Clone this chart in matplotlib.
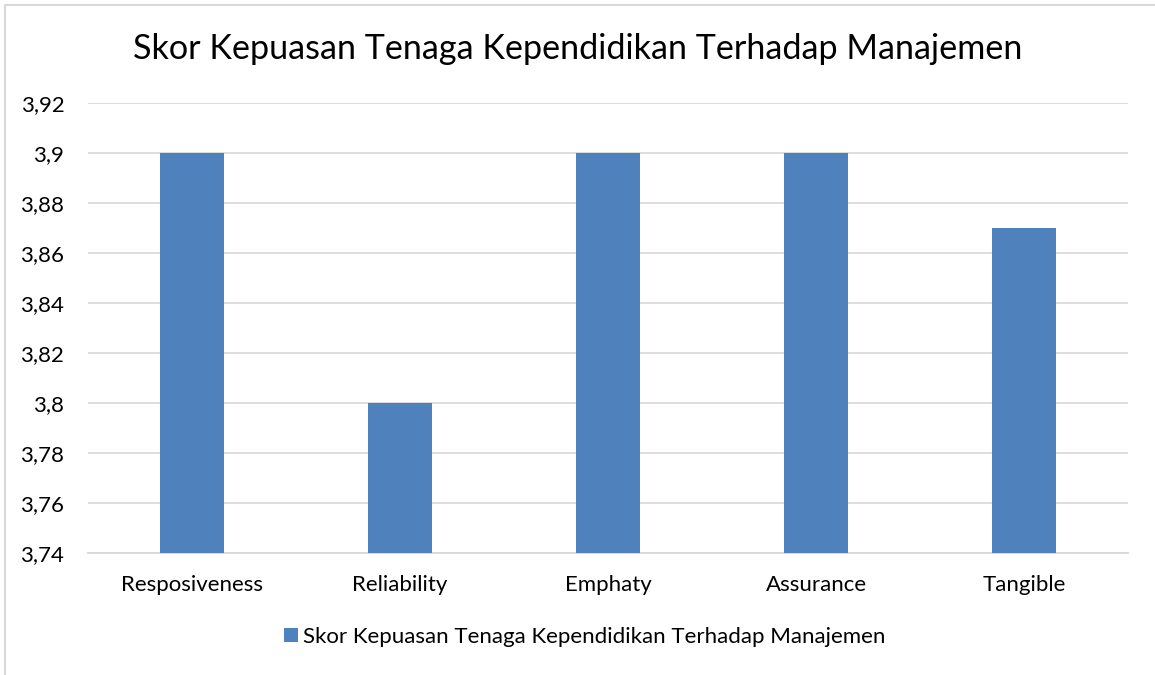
import matplotlib.pyplot as plt
from matplotlib.patches import Rectangle
from matplotlib.ticker import FuncFormatter

categories = ['Resposiveness', 'Reliability', 'Emphaty', 'Assurance', 'Tangible']
scores = [3.90, 3.80, 3.90, 3.90, 3.87]
yticks = [3.74, 3.76, 3.78, 3.80, 3.82, 3.84, 3.86, 3.88, 3.90, 3.92]
title = 'Skor Kepuasan Tenaga Kependidikan Terhadap Manajemen'

plt.rcParams['font.family'] = ['Lato', 'DejaVu Sans']

fig = plt.figure(figsize=(11.55, 6.75), dpi=100)
ax = fig.add_axes([88/1155, 122/675, 1040/1155, 450/675])

x = range(len(categories))
ax.bar(x, scores, width=0.31, color='#4F81BD', label=title, zorder=3)

ax.set_xlim(-0.5, len(categories) - 0.5)
ax.set_ylim(yticks[0], yticks[-1])
ax.set_yticks(yticks)
ax.yaxis.set_major_formatter(FuncFormatter(lambda v, p: ('%g' % round(v, 2)).replace('.', ',')))
ax.set_xticks(list(x))
ax.set_xticklabels(categories)
ax.tick_params(axis='both', length=0, labelsize=16, colors='black')
ax.tick_params(axis='y', pad=17)
ax.tick_params(axis='x', pad=16)
ax.grid(axis='y', color='#D9D9D9', linewidth=1.3, zorder=0)
for s in ['top', 'right', 'left']:
    ax.spines[s].set_visible(False)
ax.spines['bottom'].set_color('#D9D9D9')
ax.spines['bottom'].set_linewidth(1.3)

fig.text(0.5, 1 - 49/675, title, ha='center', va='center', fontsize=24.6)

leg = fig.legend(loc='center', bbox_to_anchor=(585/1155, 1 - 637/675), frameon=False,
                 fontsize=16, handlelength=0.6, handleheight=0.6, handletextpad=0.25)

fig.patches.append(Rectangle((5/1155, -0.1), 1.2, 1 - 5/675 + 0.1, transform=fig.transFigure,
                             fill=False, edgecolor='#D9D9D9', linewidth=1.5))

fig.savefig('out.png', dpi=100)
